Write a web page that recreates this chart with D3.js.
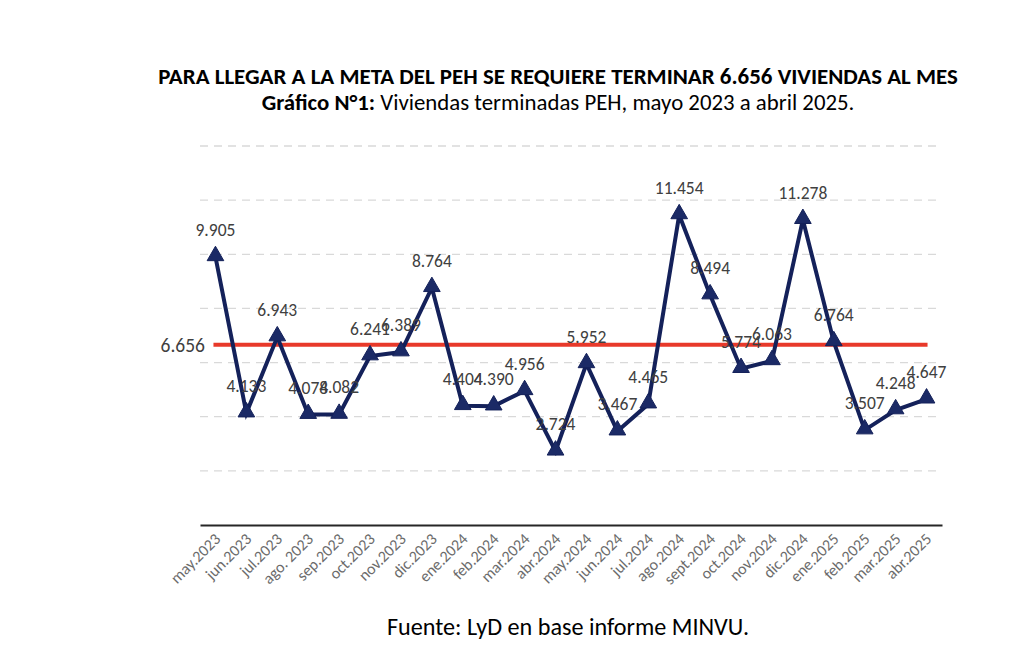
<!DOCTYPE html>
<html><head><meta charset="utf-8">
<script src="https://cdn.jsdelivr.net/npm/d3@7"></script>
<style>
html,body{margin:0;padding:0;background:#fff;}
svg{display:block;}
text{font-family:Carlito, Lato, "Open Sans", sans-serif;}
</style></head>
<body>
<svg id="c" width="1024" height="662"></svg>
<script>
const months = ["may.2023","jun.2023","jul.2023","ago. 2023","sep.2023","oct.2023","nov.2023","dic.2023","ene.2024","feb.2024","mar.2024","abr.2024","may.2024","jun.2024","jul.2024","ago.2024","sept.2024","oct.2024","nov.2024","dic.2024","ene.2025","feb.2025","mar.2025","abr.2025"];
const values = [9905,4133,6943,4078,4082,6241,6389,8764,4404,4390,4956,2724,5952,3467,4465,11454,8494,5774,6063,11278,6764,3507,4248,4647];
const meta = 6656;
const gridTicks = [2000,4000,6000,8000,10000,12000,14000];
const fmt = v => d3.format(",")(v).replace(/,/g,".");

const svg = d3.select("#c");
const x = d3.scaleBand().domain(months).range([200,942]).padding(0);
const y = d3.scaleLinear().domain([0,14000]).range([525,146]);
const cx = d => x(d) + x.bandwidth()/2;

function fitText(sel, target){
  const n = sel.node();
  const fs = parseFloat(sel.attr("font-size"));
  const w = n.getComputedTextLength();
  sel.attr("font-size", (fs*target/w).toFixed(2));
}

// gridlines
svg.append("g").selectAll("line").data(gridTicks).join("line")
  .attr("x1",200).attr("x2",938)
  .attr("y1",d=>y(d)).attr("y2",d=>y(d))
  .attr("stroke","#d9d9d9").attr("stroke-width",1.3).attr("stroke-dasharray","8,6");

// x axis
const xAxis = svg.append("g").attr("transform","translate(0,"+y(0)+")")
  .call(d3.axisBottom(x).tickSize(0).tickPadding(0));
xAxis.select(".domain").attr("stroke","#262626").attr("stroke-width",1.8);
xAxis.selectAll(".tick text")
  .attr("font-family","Carlito, Lato, sans-serif")
  .attr("font-size",16).attr("fill","#6b6b6b")
  .attr("text-anchor","end")
  .attr("dy",0).attr("y",0)
  .attr("transform","translate(6,15) rotate(-45)");

// target line
svg.append("line")
  .attr("x1",cx(months[0])-2).attr("x2",cx(months[months.length-1])+1)
  .attr("y1",y(meta)).attr("y2",y(meta))
  .attr("stroke","#e8392a").attr("stroke-width",4);
svg.append("text").attr("x",205).attr("y",y(meta)+7)
  .attr("text-anchor","end").attr("font-size",19.5).attr("fill","#404040")
  .text(fmt(meta));

// series line
const line = d3.line().x((d,i)=>cx(months[i])).y(d=>y(d));
svg.append("path").datum(values)
  .attr("d",line).attr("fill","none")
  .attr("stroke","#14215a").attr("stroke-width",4).attr("stroke-linejoin","miter");

// markers
const tri = d3.symbol().type(d3.symbolTriangle).size(120);
svg.append("g").selectAll("path").data(values).join("path")
  .attr("d",tri)
  .attr("transform",(d,i)=>"translate("+cx(months[i])+","+(y(d)-1)+")")
  .attr("fill","#1b2a66").attr("stroke","#14215a").attr("stroke-width",1);

// data labels
svg.append("g").selectAll("text").data(values).join("text")
  .attr("x",(d,i)=>cx(months[i]))
  .attr("y",d=>y(d)-21)
  .attr("text-anchor","middle").attr("font-size",17.5).attr("fill","#404040")
  .text(d=>fmt(d));

// title
const t1 = svg.append("text").attr("x",558).attr("y",84).attr("text-anchor","middle")
  .attr("font-size",18).attr("font-weight","bold").attr("fill","#000")
  .text("PARA LLEGAR A LA META DEL PEH SE REQUIERE TERMINAR 6.656 VIVIENDAS AL MES");
fitText(t1, 800);
const t2 = svg.append("text").attr("x",558).attr("y",110).attr("text-anchor","middle")
  .attr("font-size",18).attr("fill","#000");
t2.append("tspan").attr("font-weight","bold").text("Gráfico N°1:");
t2.append("tspan").text(" Viviendas terminadas PEH, mayo 2023 a abril 2025.");
fitText(t2, 593);
const t3 = svg.append("text").attr("x",568).attr("y",635).attr("text-anchor","middle")
  .attr("font-size",18).attr("fill","#000")
  .text("Fuente: LyD en base informe MINVU.");
fitText(t3, 362);
</script>
</body></html>
